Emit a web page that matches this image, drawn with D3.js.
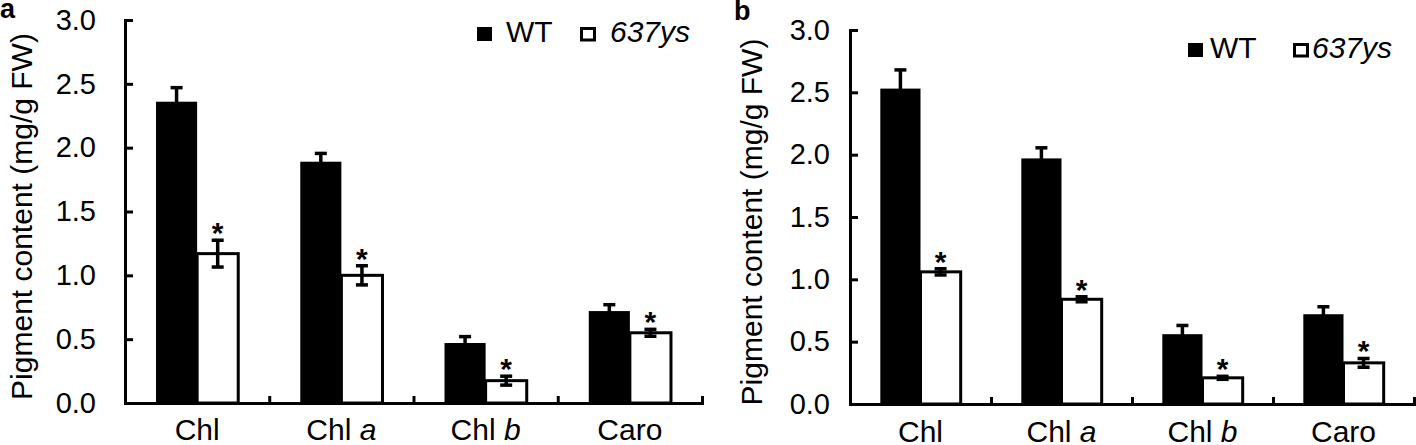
<!DOCTYPE html>
<html lang="en">
<head>
    <meta charset="UTF-8">
    <style>
        html, body { margin:0; padding:0; background:#fff; overflow:hidden; }
        svg { display:block; font-family:"Liberation Sans", Arial, sans-serif; }
    </style>
    <script src="https://d3js.org/d3.v7.min.js"></script>
</head>
<body>
<svg width="1416" height="445"></svg>
<script>
    // data
    var categories = ["Chl", "Chl a", "Chl b", "Caro"];
    var series = ["WT", "637ys"];
    var yTicks = [0, 0.5, 1.0, 1.5, 2.0, 2.5, 3.0];

    // panel a
    var wtA = [2.36, 1.89, 0.47, 0.72];
    var wtErrA = [0.11, 0.065, 0.05, 0.05];
    var ysA = [1.17, 1.00, 0.175, 0.55];
    var ysErrA = [0.105, 0.075, 0.035, 0.027];
    var sigA = [true, true, true, true];

    // panel b
    var wtB = [2.53, 1.97, 0.56, 0.72];
    var wtErrB = [0.15, 0.085, 0.07, 0.06];
    var ysB = [1.06, 0.84, 0.21, 0.33];
    var ysErrB = [0.025, 0.02, 0.012, 0.035];
    var sigB = [true, true, true, true];

    var svg = d3.select("svg");

    function drawPanel(p) {
        var g = svg.append("g");

        var x = d3.scaleBand().domain(categories).range([p.left, p.right]);
        var xs = d3.scaleBand().domain(series)
            .range([x.bandwidth() * 0.215, x.bandwidth() * 0.785]);
        var y = d3.scaleLinear().domain([0, 3]).range([p.bottom, p.top]);
        var xEdge = d3.scaleLinear().domain([0, categories.length]).range([p.left, p.right]);

        var rows = categories.map(function(c, i) {
            return [
                {cat: c, s: "WT", v: p.wt[i], e: p.wtErr[i], sig: false},
                {cat: c, s: "637ys", v: p.ys[i], e: p.ysErr[i], sig: p.sig[i]}
            ];
        });
        var flat = d3.merge(rows);

        // bars
        g.selectAll(".bar")
            .data(flat)
            .enter().append("rect")
            .attr("x", function(d) { return x(d.cat) + xs(d.s); })
            .attr("y", function(d) { return y(d.v); })
            .attr("width", xs.bandwidth())
            .attr("height", function(d) { return y(0) - y(d.v); })
            .attr("fill", function(d) { return d.s === "WT" ? "#000" : "#fff"; })
            .attr("stroke", "#000")
            .attr("stroke-width", function(d) { return d.s === "WT" ? 0 : 3; });

        // error bars
        var eb = g.selectAll(".err")
            .data(flat)
            .enter().append("g")
            .attr("stroke", "#000")
            .attr("stroke-width", 3.5);
        function cx(d) { return x(d.cat) + xs(d.s) + xs.bandwidth() / 2; }
        eb.append("line")
            .attr("x1", cx).attr("x2", cx)
            .attr("y1", function(d) { return y(d.v - d.e); })
            .attr("y2", function(d) { return y(d.v + d.e); });
        eb.append("line")
            .attr("x1", function(d) { return cx(d) - 6; })
            .attr("x2", function(d) { return cx(d) + 6; })
            .attr("y1", function(d) { return y(d.v + d.e); })
            .attr("y2", function(d) { return y(d.v + d.e); });
        eb.append("line")
            .attr("x1", function(d) { return cx(d) - 6; })
            .attr("x2", function(d) { return cx(d) + 6; })
            .attr("y1", function(d) { return y(d.v - d.e); })
            .attr("y2", function(d) { return y(d.v - d.e); });

        // significance marks
        g.selectAll(".star")
            .data(flat.filter(function(d) { return d.sig; }))
            .enter().append("text")
            .attr("x", cx)
            .attr("y", function(d) { return y(d.v + d.e) + 3; })
            .attr("text-anchor", "middle")
            .attr("font-size", 30)
            .attr("font-weight", "bold")
            .text("*");

        // y axis
        var ya = g.append("g")
            .attr("transform", "translate(" + p.left + ",0)")
            .call(d3.axisLeft(y).tickValues(yTicks).tickFormat(d3.format(".1f"))
                .tickSizeInner(-8).tickSizeOuter(0).tickPadding(p.tickPad));
        ya.selectAll("text").attr("font-size", 29).attr("fill", "#000")
            .attr("font-family", "Liberation Sans, Arial, sans-serif");

        // x axis line with ticks between groups
        var xa = g.append("g")
            .attr("transform", "translate(0," + p.bottom + ")")
            .call(d3.axisBottom(xEdge).tickValues(d3.range(1, categories.length + 1))
                .tickFormat("").tickSizeInner(-7).tickSizeOuter(0));

        // category labels
        var xl = g.append("g")
            .attr("transform", "translate(0," + p.bottom + ")")
            .call(d3.axisBottom(x).tickSize(0).tickPadding(0));
        xl.select(".domain").remove();
        xl.selectAll("text")
            .attr("y", p.labelY - p.bottom)
            .attr("dy", 0)
            .attr("font-size", 30)
            .attr("fill", "#000")
            .attr("font-family", "Liberation Sans, Arial, sans-serif")
            .each(function(d) {
                var t = d3.select(this), parts = d.split(" ");
                t.text(null);
                t.append("tspan").text(parts[0]);
                if (parts.length > 1) {
                    t.append("tspan").text(" ");
                    t.append("tspan").attr("font-style", "italic").text(parts[1]);
                }
            });

        [ya, xa].forEach(function(a) {
            a.selectAll(".domain, line").attr("stroke", "#000").attr("stroke-width", 3);
            a.select(".domain").attr("stroke-linecap", "square");
        });

        // y axis title
        g.append("text")
            .attr("transform", "translate(" + p.titleX + "," + ((p.top + p.bottom) / 2 + 5) + ") rotate(-90)")
            .attr("text-anchor", "middle")
            .attr("font-size", 30)
            .text("Pigment content (mg/g FW)");

        // panel letter
        g.append("text")
            .attr("x", p.letterX).attr("y", p.letterY)
            .attr("font-size", 27)
            .attr("font-weight", "bold")
            .text(p.letter);

        // legend
        var lg = g.append("g");
        lg.append("rect")
            .attr("x", p.leg[0]).attr("y", p.legY - 15)
            .attr("width", 15).attr("height", 14)
            .attr("fill", "#000");
        lg.append("text")
            .attr("x", p.leg[1]).attr("y", p.legY)
            .attr("font-size", 30)
            .text(series[0]);
        lg.append("rect")
            .attr("x", p.leg[2] + 1.5).attr("y", p.legY - 13.5)
            .attr("width", 13).attr("height", 11.5)
            .attr("fill", "#fff").attr("stroke", "#000").attr("stroke-width", 3);
        lg.append("text")
            .attr("x", p.leg[3]).attr("y", p.legY)
            .attr("font-size", 30)
            .attr("font-style", "italic")
            .text(series[1]);
    }

    drawPanel({
        letter: "a", letterX: 0, letterY: 18,
        left: 125, right: 702, top: 20, bottom: 403,
        tickPad: 29, titleX: 32, labelY: 440,
        wt: wtA, wtErr: wtErrA, ys: ysA, ysErr: ysErrA, sig: sigA,
        leg: [477, 506, 580, 610], legY: 42
    });

    drawPanel({
        letter: "b", letterX: 734, letterY: 20,
        left: 850, right: 1414, top: 30, bottom: 404,
        tickPad: 20, titleX: 762, labelY: 442,
        wt: wtB, wtErr: wtErrB, ys: ysB, ysErr: ysErrB, sig: sigB,
        leg: [1188, 1210, 1293, 1312], legY: 58
    });
</script>
</body>
</html>
